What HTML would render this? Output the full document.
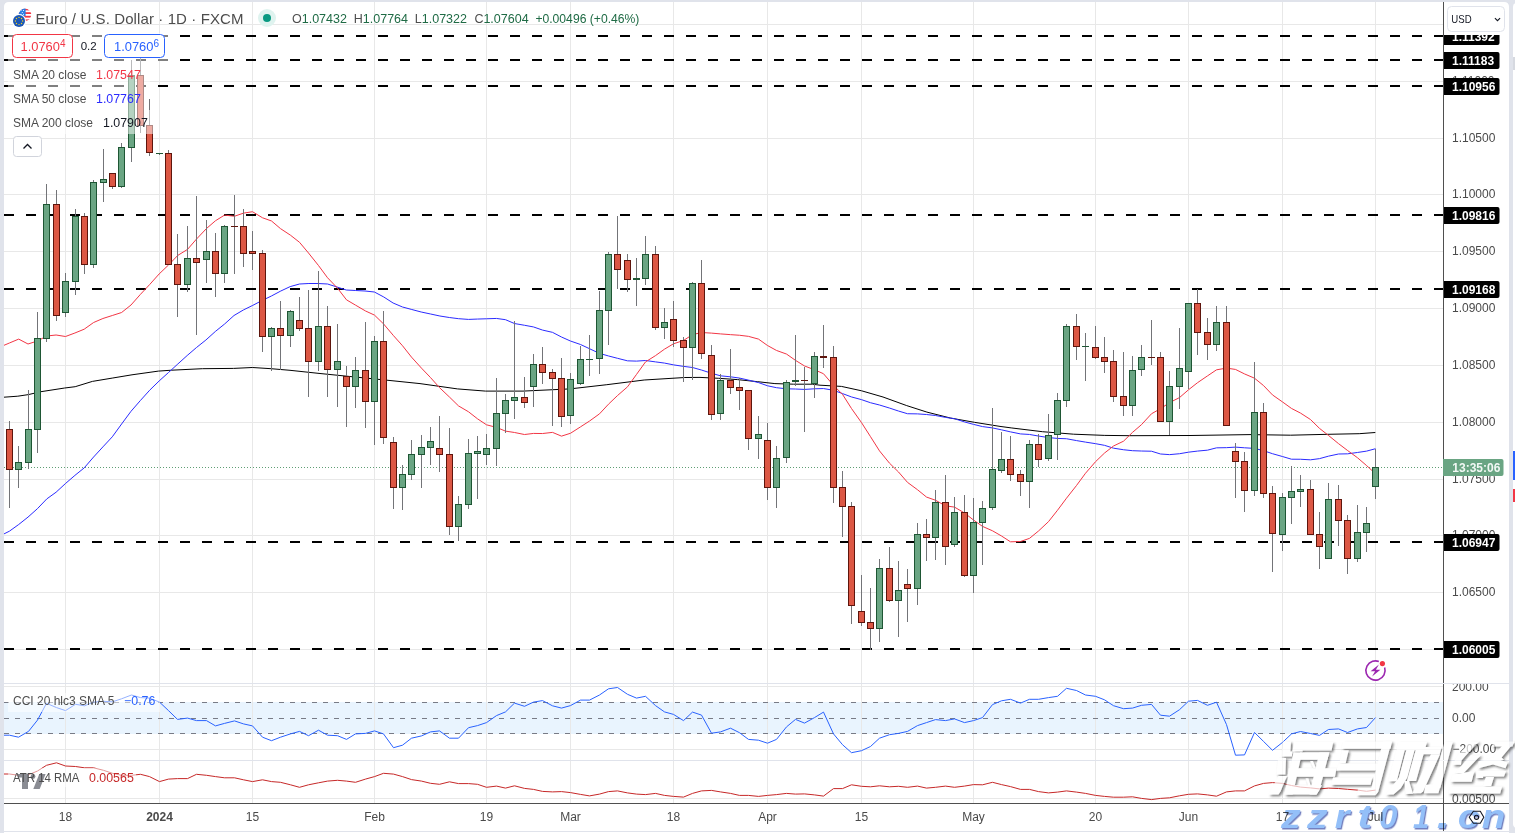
<!DOCTYPE html><html><head><meta charset="utf-8"><title>EUR/USD</title><style>
html,body{margin:0;padding:0;width:1515px;height:833px;overflow:hidden;background:#e0e3eb;}
svg{position:absolute;left:0;top:0;display:block;}
text{font-family:"Liberation Sans", sans-serif;}
</style></head><body>
<svg width="1515" height="833" viewBox="0 0 1515 833">
<defs>
<clipPath id="cmain"><rect x="4" y="2" width="1439" height="681"/></clipPath>
<clipPath id="ccci"><rect x="4" y="684" width="1439" height="76"/></clipPath>
<clipPath id="catr"><rect x="4" y="761" width="1439" height="42"/></clipPath>
<clipPath id="caxis"><rect x="1444" y="35" width="65" height="648"/></clipPath>
</defs>
<path d="M4 831 V7 Q4 2 9 2 H1504 Q1509 2 1509 7 V831 Z" fill="#ffffff"/>
<rect x="4" y="832" width="1505" height="1" fill="#ffffff"/>
<rect x="1513" y="3" width="12" height="825" rx="4" fill="#ffffff"/>
<rect x="1513" y="57" width="2" height="13" fill="#d6d9e0"/>
<rect x="1513" y="451" width="2" height="29" fill="#2962ff"/>
<rect x="1513" y="489" width="2" height="13" fill="#f23645"/>
<g clip-path="url(#cmain)" shape-rendering="crispEdges">
<rect x="4" y="24" width="1439" height="1" fill="#e8e8e8"/>
<rect x="4" y="81" width="1439" height="1" fill="#e8e8e8"/>
<rect x="4" y="138" width="1439" height="1" fill="#e8e8e8"/>
<rect x="4" y="194" width="1439" height="1" fill="#e8e8e8"/>
<rect x="4" y="251" width="1439" height="1" fill="#e8e8e8"/>
<rect x="4" y="308" width="1439" height="1" fill="#e8e8e8"/>
<rect x="4" y="365" width="1439" height="1" fill="#e8e8e8"/>
<rect x="4" y="422" width="1439" height="1" fill="#e8e8e8"/>
<rect x="4" y="479" width="1439" height="1" fill="#e8e8e8"/>
<rect x="4" y="535" width="1439" height="1" fill="#e8e8e8"/>
<rect x="4" y="592" width="1439" height="1" fill="#e8e8e8"/>
<rect x="4" y="649" width="1439" height="1" fill="#e8e8e8"/>
<rect x="65" y="2" width="1" height="681" fill="#e8e8e8"/>
<rect x="159" y="2" width="1" height="681" fill="#e8e8e8"/>
<rect x="252" y="2" width="1" height="681" fill="#e8e8e8"/>
<rect x="374" y="2" width="1" height="681" fill="#e8e8e8"/>
<rect x="486" y="2" width="1" height="681" fill="#e8e8e8"/>
<rect x="570" y="2" width="1" height="681" fill="#e8e8e8"/>
<rect x="673" y="2" width="1" height="681" fill="#e8e8e8"/>
<rect x="767" y="2" width="1" height="681" fill="#e8e8e8"/>
<rect x="861" y="2" width="1" height="681" fill="#e8e8e8"/>
<rect x="973" y="2" width="1" height="681" fill="#e8e8e8"/>
<rect x="1095" y="2" width="1" height="681" fill="#e8e8e8"/>
<rect x="1188" y="2" width="1" height="681" fill="#e8e8e8"/>
<rect x="1282" y="2" width="1" height="681" fill="#e8e8e8"/>
<rect x="1375" y="2" width="1" height="681" fill="#e8e8e8"/>
</g>
<g clip-path="url(#cmain)">
<line x1="4" y1="36" x2="1443" y2="36" stroke="#000" stroke-width="2" stroke-dasharray="10 12" shape-rendering="crispEdges"/>
<line x1="4" y1="60" x2="1443" y2="60" stroke="#000" stroke-width="2" stroke-dasharray="10 12" shape-rendering="crispEdges"/>
<line x1="4" y1="86" x2="1443" y2="86" stroke="#000" stroke-width="2" stroke-dasharray="10 12" shape-rendering="crispEdges"/>
<line x1="4" y1="215" x2="1443" y2="215" stroke="#000" stroke-width="2" stroke-dasharray="10 12" shape-rendering="crispEdges"/>
<line x1="4" y1="289" x2="1443" y2="289" stroke="#000" stroke-width="2" stroke-dasharray="10 12" shape-rendering="crispEdges"/>
<line x1="4" y1="542" x2="1443" y2="542" stroke="#000" stroke-width="2" stroke-dasharray="10 12" shape-rendering="crispEdges"/>
<line x1="4" y1="649" x2="1443" y2="649" stroke="#000" stroke-width="2" stroke-dasharray="10 12" shape-rendering="crispEdges"/>
<line x1="4" y1="467.5" x2="1443" y2="467.5" stroke="#5f9e74" stroke-width="1" stroke-dasharray="1 2" shape-rendering="crispEdges"/>
</g>
<g clip-path="url(#cmain)">
<polyline points="4.00,397.20 17.80,396.20 28.40,394.60 40.90,391.70 64.70,388.00 75.20,386.70 92.40,381.40 112.20,378.10 132.00,374.80 158.40,371.10 171.60,370.20 202.40,368.70 233.60,368.40 252.30,367.50 271.00,368.70 290.00,370.30 320.00,373.50 355.00,377.00 390.00,380.50 420.00,383.60 457.40,388.90 485.50,391.10 523.00,391.10 570.00,388.90 606.80,384.70 644.20,380.00 684.80,377.50 700.00,377.40 718.70,378.30 737.40,379.60 757.70,381.70 774.90,383.60 793.60,384.20 812.30,384.20 820.00,385.20 841.40,386.40 861.60,390.80 883.00,397.00 906.70,405.60 926.90,412.10 950.70,418.10 974.40,422.30 1000.00,426.40 1011.20,427.90 1042.40,431.70 1073.60,434.20 1104.80,435.40 1130.00,435.70 1190.00,435.50 1250.00,434.60 1290.60,435.20 1328.00,434.30 1359.20,433.70 1375.30,432.50" fill="none" stroke="#000000" stroke-width="1" stroke-linejoin="round" />
<polyline points="4.00,533.90 9.40,531.20 18.70,524.50 28.00,517.10 37.40,508.70 46.80,498.90 56.10,492.20 65.50,483.50 74.90,475.40 84.20,467.90 93.60,457.00 102.90,446.90 112.30,436.80 121.60,424.00 131.00,411.30 140.40,400.50 149.70,390.20 159.10,381.00 168.50,372.50 177.80,364.00 187.20,355.50 196.50,347.50 205.90,340.00 215.30,331.50 224.60,324.00 234.00,315.50 243.30,310.00 252.70,305.40 262.10,300.50 271.40,296.00 280.80,291.00 290.20,286.60 299.50,284.00 308.90,283.50 318.20,283.50 327.60,284.00 337.00,287.00 346.30,290.00 355.70,290.50 365.00,291.00 374.40,292.00 383.80,297.00 393.10,303.00 402.50,307.00 411.80,309.50 421.20,312.00 430.60,314.00 439.90,316.00 449.30,317.50 458.60,318.70 468.50,319.41 477.50,319.05 486.50,318.77 496.50,318.45 505.50,319.69 514.50,323.54 524.50,325.28 533.50,326.94 542.50,330.07 552.50,332.35 561.50,337.03 570.50,341.04 580.50,344.49 589.50,348.71 599.50,353.40 608.50,355.96 617.50,358.30 627.50,360.83 636.50,361.11 645.50,360.50 655.50,361.89 664.50,363.09 673.50,364.87 683.50,366.36 692.50,367.50 701.50,370.04 711.50,373.27 720.50,375.80 730.50,376.82 739.50,378.07 748.50,380.12 758.50,382.59 767.50,385.77 776.50,387.69 786.50,388.81 795.50,389.03 804.50,389.42 814.50,388.80 823.50,388.55 833.50,390.27 842.50,393.58 851.50,396.95 861.50,399.65 870.50,402.73 879.50,405.00 889.50,408.06 898.50,411.04 907.50,413.72 917.50,413.88 926.50,414.53 935.50,415.51 945.50,417.40 954.50,418.69 964.50,421.93 973.50,424.37 982.50,426.59 992.50,427.93 1001.50,429.83 1010.50,431.86 1020.50,433.91 1029.50,434.46 1038.50,436.05 1048.50,437.57 1057.50,438.41 1066.50,438.74 1076.50,440.59 1085.50,442.12 1095.50,443.67 1104.50,445.33 1113.50,448.17 1123.50,449.74 1132.50,450.69 1141.50,451.03 1151.50,451.23 1160.50,453.99 1169.50,454.64 1179.50,453.72 1188.50,452.18 1197.50,451.08 1207.50,450.16 1216.50,447.84 1226.50,447.66 1235.50,447.14 1244.50,447.79 1254.50,448.40 1263.50,450.66 1272.50,453.71 1282.50,456.54 1291.50,459.21 1300.50,459.25 1310.50,459.82 1319.50,458.63 1328.50,456.17 1338.50,454.01 1347.50,453.83 1357.50,452.47 1366.50,451.13 1375.50,448.71" fill="none" stroke="#2b2bff" stroke-width="1" stroke-linejoin="round" />
<polyline points="4.00,345.30 9.40,343.00 18.70,339.10 28.00,344.00 37.40,341.00 46.80,336.00 56.10,335.00 65.50,336.50 74.90,333.00 84.20,329.20 93.60,322.50 102.90,318.50 112.30,315.50 121.60,312.50 131.00,305.00 140.40,294.40 149.70,284.50 159.10,274.00 168.50,265.00 177.80,255.40 187.50,249.42 196.50,239.06 206.50,228.51 215.50,220.72 224.50,215.11 234.50,216.24 243.50,213.13 252.50,211.73 262.50,217.77 271.50,220.97 280.50,228.64 290.50,235.23 299.50,242.29 308.50,253.01 318.50,265.54 327.50,277.71 337.50,288.16 346.50,299.83 355.50,305.12 365.50,310.97 374.50,315.12 383.50,323.87 393.50,335.67 402.50,345.72 411.50,357.13 421.50,368.17 430.50,377.56 439.50,387.61 449.50,397.08 458.50,405.90 468.50,411.78 477.50,418.80 486.50,424.81 496.50,427.41 505.50,431.11 514.50,432.49 524.50,434.53 533.50,433.43 542.50,433.54 552.50,432.39 561.50,436.14 570.50,433.25 580.50,426.86 589.50,421.06 599.50,413.83 608.50,404.16 617.50,395.56 627.50,386.83 636.50,374.43 645.50,361.91 655.50,355.61 664.50,349.16 673.50,343.77 683.50,340.49 692.50,334.64 701.50,332.50 711.50,333.11 720.50,333.90 730.50,334.65 739.50,335.26 748.50,336.36 758.50,339.10 767.50,345.50 776.50,350.46 786.50,354.06 795.50,360.37 804.50,365.96 814.50,369.75 823.50,373.74 833.50,385.39 842.50,394.35 851.50,408.53 861.50,422.62 870.50,436.66 879.50,450.88 889.50,463.20 898.50,471.99 907.50,482.39 917.50,489.73 926.50,497.06 935.50,500.25 945.50,505.84 954.50,507.10 964.50,512.99 973.50,520.02 982.50,526.39 992.50,530.81 1001.50,535.99 1010.50,541.81 1020.50,541.50 1029.50,538.35 1038.50,531.01 1048.50,521.64 1057.50,510.25 1066.50,498.19 1076.50,485.49 1085.50,473.26 1095.50,461.71 1104.50,453.06 1113.50,446.00 1123.50,441.19 1132.50,432.38 1141.50,424.63 1151.50,413.75 1160.50,408.69 1169.50,402.63 1179.50,397.58 1188.50,389.79 1197.50,382.71 1207.50,375.88 1216.50,369.82 1226.50,368.12 1235.50,369.43 1244.50,373.92 1254.50,378.19 1263.50,385.54 1272.50,394.93 1282.50,401.94 1291.50,408.44 1300.50,413.09 1310.50,419.54 1319.50,428.38 1328.50,435.46 1338.50,443.61 1347.50,450.46 1357.50,457.76 1366.50,465.51 1375.50,473.71" fill="none" stroke="#f23645" stroke-width="1" stroke-linejoin="round" />
</g>
<g clip-path="url(#cmain)" shape-rendering="crispEdges">
<rect x="9" y="421" width="1" height="87" fill="#737478"/>
<rect x="6" y="429" width="7" height="41" fill="#5e150d"/>
<rect x="7" y="430" width="5" height="39" fill="#dc5744"/>
<rect x="18" y="446" width="1" height="42" fill="#737478"/>
<rect x="15" y="462" width="7" height="8" fill="#1e5634"/>
<rect x="16" y="463" width="5" height="6" fill="#6aa583"/>
<rect x="28" y="390" width="1" height="79" fill="#737478"/>
<rect x="25" y="429" width="7" height="34" fill="#1e5634"/>
<rect x="26" y="430" width="5" height="32" fill="#6aa583"/>
<rect x="37" y="312" width="1" height="141" fill="#737478"/>
<rect x="34" y="338" width="7" height="92" fill="#1e5634"/>
<rect x="35" y="339" width="5" height="90" fill="#6aa583"/>
<rect x="46" y="184" width="1" height="158" fill="#737478"/>
<rect x="43" y="204" width="7" height="135" fill="#1e5634"/>
<rect x="44" y="205" width="5" height="133" fill="#6aa583"/>
<rect x="56" y="190" width="1" height="131" fill="#737478"/>
<rect x="53" y="204" width="7" height="112" fill="#5e150d"/>
<rect x="54" y="205" width="5" height="110" fill="#dc5744"/>
<rect x="65" y="273" width="1" height="44" fill="#737478"/>
<rect x="62" y="281" width="7" height="32" fill="#1e5634"/>
<rect x="63" y="282" width="5" height="30" fill="#6aa583"/>
<rect x="75" y="209" width="1" height="86" fill="#737478"/>
<rect x="72" y="216" width="7" height="66" fill="#1e5634"/>
<rect x="73" y="217" width="5" height="64" fill="#6aa583"/>
<rect x="84" y="213" width="1" height="61" fill="#737478"/>
<rect x="81" y="216" width="7" height="49" fill="#5e150d"/>
<rect x="82" y="217" width="5" height="47" fill="#dc5744"/>
<rect x="93" y="180" width="1" height="88" fill="#737478"/>
<rect x="90" y="182" width="7" height="83" fill="#1e5634"/>
<rect x="91" y="183" width="5" height="81" fill="#6aa583"/>
<rect x="103" y="149" width="1" height="53" fill="#737478"/>
<rect x="100" y="179" width="7" height="4" fill="#1e5634"/>
<rect x="101" y="180" width="5" height="2" fill="#6aa583"/>
<rect x="112" y="173" width="1" height="16" fill="#737478"/>
<rect x="109" y="173" width="7" height="14" fill="#5e150d"/>
<rect x="110" y="174" width="5" height="12" fill="#dc5744"/>
<rect x="121" y="143" width="1" height="45" fill="#737478"/>
<rect x="118" y="147" width="7" height="40" fill="#1e5634"/>
<rect x="119" y="148" width="5" height="38" fill="#6aa583"/>
<rect x="131" y="60" width="1" height="102" fill="#737478"/>
<rect x="128" y="75" width="7" height="73" fill="#1e5634"/>
<rect x="129" y="76" width="5" height="71" fill="#6aa583"/>
<rect x="140" y="38" width="1" height="95" fill="#737478"/>
<rect x="137" y="75" width="7" height="51" fill="#5e150d"/>
<rect x="138" y="76" width="5" height="49" fill="#dc5744"/>
<rect x="149" y="99" width="1" height="57" fill="#737478"/>
<rect x="146" y="125" width="7" height="28" fill="#5e150d"/>
<rect x="147" y="126" width="5" height="26" fill="#dc5744"/>
<rect x="159" y="153" width="1" height="2" fill="#737478"/>
<rect x="156" y="153" width="7" height="1" fill="#1e5634"/>
<rect x="168" y="150" width="1" height="115" fill="#737478"/>
<rect x="165" y="153" width="7" height="112" fill="#5e150d"/>
<rect x="166" y="154" width="5" height="110" fill="#dc5744"/>
<rect x="177" y="234" width="1" height="83" fill="#737478"/>
<rect x="174" y="264" width="7" height="21" fill="#5e150d"/>
<rect x="175" y="265" width="5" height="19" fill="#dc5744"/>
<rect x="187" y="226" width="1" height="66" fill="#737478"/>
<rect x="184" y="258" width="7" height="27" fill="#1e5634"/>
<rect x="185" y="259" width="5" height="25" fill="#6aa583"/>
<rect x="196" y="196" width="1" height="139" fill="#737478"/>
<rect x="193" y="258" width="7" height="5" fill="#5e150d"/>
<rect x="194" y="259" width="5" height="3" fill="#dc5744"/>
<rect x="206" y="220" width="1" height="63" fill="#737478"/>
<rect x="203" y="251" width="7" height="9" fill="#1e5634"/>
<rect x="204" y="252" width="5" height="7" fill="#6aa583"/>
<rect x="215" y="233" width="1" height="64" fill="#737478"/>
<rect x="212" y="251" width="7" height="23" fill="#5e150d"/>
<rect x="213" y="252" width="5" height="21" fill="#dc5744"/>
<rect x="224" y="225" width="1" height="58" fill="#737478"/>
<rect x="221" y="226" width="7" height="48" fill="#1e5634"/>
<rect x="222" y="227" width="5" height="46" fill="#6aa583"/>
<rect x="234" y="195" width="1" height="79" fill="#737478"/>
<rect x="231" y="226" width="7" height="1" fill="#5e150d"/>
<rect x="243" y="209" width="1" height="58" fill="#737478"/>
<rect x="240" y="226" width="7" height="28" fill="#5e150d"/>
<rect x="241" y="227" width="5" height="26" fill="#dc5744"/>
<rect x="252" y="231" width="1" height="39" fill="#737478"/>
<rect x="249" y="251" width="7" height="3" fill="#5e150d"/>
<rect x="250" y="252" width="5" height="1" fill="#dc5744"/>
<rect x="262" y="250" width="1" height="102" fill="#737478"/>
<rect x="259" y="253" width="7" height="84" fill="#5e150d"/>
<rect x="260" y="254" width="5" height="82" fill="#dc5744"/>
<rect x="271" y="327" width="1" height="44" fill="#737478"/>
<rect x="268" y="328" width="7" height="9" fill="#1e5634"/>
<rect x="269" y="329" width="5" height="7" fill="#6aa583"/>
<rect x="280" y="301" width="1" height="69" fill="#737478"/>
<rect x="277" y="328" width="7" height="8" fill="#5e150d"/>
<rect x="278" y="329" width="5" height="6" fill="#dc5744"/>
<rect x="290" y="310" width="1" height="37" fill="#737478"/>
<rect x="287" y="311" width="7" height="25" fill="#1e5634"/>
<rect x="288" y="312" width="5" height="23" fill="#6aa583"/>
<rect x="299" y="297" width="1" height="34" fill="#737478"/>
<rect x="296" y="320" width="7" height="9" fill="#5e150d"/>
<rect x="297" y="321" width="5" height="7" fill="#dc5744"/>
<rect x="308" y="290" width="1" height="107" fill="#737478"/>
<rect x="305" y="328" width="7" height="34" fill="#5e150d"/>
<rect x="306" y="329" width="5" height="32" fill="#dc5744"/>
<rect x="318" y="271" width="1" height="100" fill="#737478"/>
<rect x="315" y="326" width="7" height="36" fill="#1e5634"/>
<rect x="316" y="327" width="5" height="34" fill="#6aa583"/>
<rect x="327" y="306" width="1" height="91" fill="#737478"/>
<rect x="324" y="326" width="7" height="44" fill="#5e150d"/>
<rect x="325" y="327" width="5" height="42" fill="#dc5744"/>
<rect x="337" y="324" width="1" height="83" fill="#737478"/>
<rect x="334" y="361" width="7" height="9" fill="#1e5634"/>
<rect x="335" y="362" width="5" height="7" fill="#6aa583"/>
<rect x="346" y="366" width="1" height="61" fill="#737478"/>
<rect x="343" y="376" width="7" height="11" fill="#5e150d"/>
<rect x="344" y="377" width="5" height="9" fill="#dc5744"/>
<rect x="355" y="357" width="1" height="51" fill="#737478"/>
<rect x="352" y="370" width="7" height="17" fill="#1e5634"/>
<rect x="353" y="371" width="5" height="15" fill="#6aa583"/>
<rect x="365" y="322" width="1" height="106" fill="#737478"/>
<rect x="362" y="370" width="7" height="32" fill="#5e150d"/>
<rect x="363" y="371" width="5" height="30" fill="#dc5744"/>
<rect x="374" y="336" width="1" height="109" fill="#737478"/>
<rect x="371" y="341" width="7" height="61" fill="#1e5634"/>
<rect x="372" y="342" width="5" height="59" fill="#6aa583"/>
<rect x="383" y="311" width="1" height="133" fill="#737478"/>
<rect x="380" y="341" width="7" height="97" fill="#5e150d"/>
<rect x="381" y="342" width="5" height="95" fill="#dc5744"/>
<rect x="393" y="437" width="1" height="72" fill="#737478"/>
<rect x="390" y="442" width="7" height="46" fill="#5e150d"/>
<rect x="391" y="443" width="5" height="44" fill="#dc5744"/>
<rect x="402" y="465" width="1" height="45" fill="#737478"/>
<rect x="399" y="474" width="7" height="14" fill="#1e5634"/>
<rect x="400" y="475" width="5" height="12" fill="#6aa583"/>
<rect x="411" y="440" width="1" height="40" fill="#737478"/>
<rect x="408" y="454" width="7" height="21" fill="#1e5634"/>
<rect x="409" y="455" width="5" height="19" fill="#6aa583"/>
<rect x="421" y="435" width="1" height="53" fill="#737478"/>
<rect x="418" y="447" width="7" height="8" fill="#1e5634"/>
<rect x="419" y="448" width="5" height="6" fill="#6aa583"/>
<rect x="430" y="427" width="1" height="38" fill="#737478"/>
<rect x="427" y="441" width="7" height="7" fill="#1e5634"/>
<rect x="428" y="442" width="5" height="5" fill="#6aa583"/>
<rect x="439" y="416" width="1" height="56" fill="#737478"/>
<rect x="436" y="448" width="7" height="7" fill="#5e150d"/>
<rect x="437" y="449" width="5" height="5" fill="#dc5744"/>
<rect x="449" y="428" width="1" height="107" fill="#737478"/>
<rect x="446" y="454" width="7" height="73" fill="#5e150d"/>
<rect x="447" y="455" width="5" height="71" fill="#dc5744"/>
<rect x="458" y="496" width="1" height="45" fill="#737478"/>
<rect x="455" y="504" width="7" height="23" fill="#1e5634"/>
<rect x="456" y="505" width="5" height="21" fill="#6aa583"/>
<rect x="468" y="439" width="1" height="70" fill="#737478"/>
<rect x="465" y="453" width="7" height="52" fill="#1e5634"/>
<rect x="466" y="454" width="5" height="50" fill="#6aa583"/>
<rect x="477" y="436" width="1" height="63" fill="#737478"/>
<rect x="474" y="451" width="7" height="3" fill="#1e5634"/>
<rect x="475" y="452" width="5" height="1" fill="#6aa583"/>
<rect x="486" y="434" width="1" height="31" fill="#737478"/>
<rect x="483" y="448" width="7" height="7" fill="#1e5634"/>
<rect x="484" y="449" width="5" height="5" fill="#6aa583"/>
<rect x="496" y="378" width="1" height="88" fill="#737478"/>
<rect x="493" y="413" width="7" height="36" fill="#1e5634"/>
<rect x="494" y="414" width="5" height="34" fill="#6aa583"/>
<rect x="505" y="394" width="1" height="39" fill="#737478"/>
<rect x="502" y="400" width="7" height="14" fill="#1e5634"/>
<rect x="503" y="401" width="5" height="12" fill="#6aa583"/>
<rect x="514" y="321" width="1" height="98" fill="#737478"/>
<rect x="511" y="397" width="7" height="4" fill="#1e5634"/>
<rect x="512" y="398" width="5" height="2" fill="#6aa583"/>
<rect x="524" y="377" width="1" height="31" fill="#737478"/>
<rect x="521" y="397" width="7" height="6" fill="#5e150d"/>
<rect x="522" y="398" width="5" height="4" fill="#dc5744"/>
<rect x="533" y="354" width="1" height="53" fill="#737478"/>
<rect x="530" y="364" width="7" height="23" fill="#1e5634"/>
<rect x="531" y="365" width="5" height="21" fill="#6aa583"/>
<rect x="542" y="347" width="1" height="37" fill="#737478"/>
<rect x="539" y="364" width="7" height="9" fill="#5e150d"/>
<rect x="540" y="365" width="5" height="7" fill="#dc5744"/>
<rect x="552" y="369" width="1" height="57" fill="#737478"/>
<rect x="549" y="372" width="7" height="7" fill="#5e150d"/>
<rect x="550" y="373" width="5" height="5" fill="#dc5744"/>
<rect x="561" y="358" width="1" height="69" fill="#737478"/>
<rect x="558" y="378" width="7" height="39" fill="#5e150d"/>
<rect x="559" y="379" width="5" height="37" fill="#dc5744"/>
<rect x="570" y="373" width="1" height="51" fill="#737478"/>
<rect x="567" y="379" width="7" height="37" fill="#1e5634"/>
<rect x="568" y="380" width="5" height="35" fill="#6aa583"/>
<rect x="580" y="346" width="1" height="39" fill="#737478"/>
<rect x="577" y="359" width="7" height="25" fill="#1e5634"/>
<rect x="578" y="360" width="5" height="23" fill="#6aa583"/>
<rect x="589" y="335" width="1" height="41" fill="#737478"/>
<rect x="586" y="359" width="7" height="1" fill="#1e5634"/>
<rect x="599" y="291" width="1" height="83" fill="#737478"/>
<rect x="596" y="310" width="7" height="49" fill="#1e5634"/>
<rect x="597" y="311" width="5" height="47" fill="#6aa583"/>
<rect x="608" y="252" width="1" height="93" fill="#737478"/>
<rect x="605" y="254" width="7" height="57" fill="#1e5634"/>
<rect x="606" y="255" width="5" height="55" fill="#6aa583"/>
<rect x="617" y="216" width="1" height="73" fill="#737478"/>
<rect x="614" y="254" width="7" height="16" fill="#5e150d"/>
<rect x="615" y="255" width="5" height="14" fill="#dc5744"/>
<rect x="627" y="254" width="1" height="38" fill="#737478"/>
<rect x="624" y="260" width="7" height="20" fill="#5e150d"/>
<rect x="625" y="261" width="5" height="18" fill="#dc5744"/>
<rect x="636" y="258" width="1" height="48" fill="#737478"/>
<rect x="633" y="278" width="7" height="2" fill="#1e5634"/>
<rect x="645" y="236" width="1" height="49" fill="#737478"/>
<rect x="642" y="254" width="7" height="25" fill="#1e5634"/>
<rect x="643" y="255" width="5" height="23" fill="#6aa583"/>
<rect x="655" y="246" width="1" height="84" fill="#737478"/>
<rect x="652" y="254" width="7" height="74" fill="#5e150d"/>
<rect x="653" y="255" width="5" height="72" fill="#dc5744"/>
<rect x="664" y="308" width="1" height="31" fill="#737478"/>
<rect x="661" y="322" width="7" height="6" fill="#1e5634"/>
<rect x="662" y="323" width="5" height="4" fill="#6aa583"/>
<rect x="673" y="301" width="1" height="46" fill="#737478"/>
<rect x="670" y="319" width="7" height="22" fill="#5e150d"/>
<rect x="671" y="320" width="5" height="20" fill="#dc5744"/>
<rect x="683" y="337" width="1" height="45" fill="#737478"/>
<rect x="680" y="340" width="7" height="8" fill="#5e150d"/>
<rect x="681" y="341" width="5" height="6" fill="#dc5744"/>
<rect x="692" y="282" width="1" height="98" fill="#737478"/>
<rect x="689" y="283" width="7" height="65" fill="#1e5634"/>
<rect x="690" y="284" width="5" height="63" fill="#6aa583"/>
<rect x="701" y="260" width="1" height="99" fill="#737478"/>
<rect x="698" y="283" width="7" height="71" fill="#5e150d"/>
<rect x="699" y="284" width="5" height="69" fill="#dc5744"/>
<rect x="711" y="345" width="1" height="75" fill="#737478"/>
<rect x="708" y="355" width="7" height="60" fill="#5e150d"/>
<rect x="709" y="356" width="5" height="58" fill="#dc5744"/>
<rect x="720" y="374" width="1" height="46" fill="#737478"/>
<rect x="717" y="380" width="7" height="34" fill="#1e5634"/>
<rect x="718" y="381" width="5" height="32" fill="#6aa583"/>
<rect x="730" y="349" width="1" height="45" fill="#737478"/>
<rect x="727" y="380" width="7" height="8" fill="#5e150d"/>
<rect x="728" y="381" width="5" height="6" fill="#dc5744"/>
<rect x="739" y="378" width="1" height="32" fill="#737478"/>
<rect x="736" y="387" width="7" height="4" fill="#5e150d"/>
<rect x="737" y="388" width="5" height="2" fill="#dc5744"/>
<rect x="748" y="390" width="1" height="60" fill="#737478"/>
<rect x="745" y="390" width="7" height="49" fill="#5e150d"/>
<rect x="746" y="391" width="5" height="47" fill="#dc5744"/>
<rect x="758" y="416" width="1" height="43" fill="#737478"/>
<rect x="755" y="434" width="7" height="5" fill="#1e5634"/>
<rect x="756" y="435" width="5" height="3" fill="#6aa583"/>
<rect x="767" y="423" width="1" height="77" fill="#737478"/>
<rect x="764" y="440" width="7" height="48" fill="#5e150d"/>
<rect x="765" y="441" width="5" height="46" fill="#dc5744"/>
<rect x="776" y="446" width="1" height="62" fill="#737478"/>
<rect x="773" y="458" width="7" height="30" fill="#1e5634"/>
<rect x="774" y="459" width="5" height="28" fill="#6aa583"/>
<rect x="786" y="380" width="1" height="83" fill="#737478"/>
<rect x="783" y="382" width="7" height="76" fill="#1e5634"/>
<rect x="784" y="383" width="5" height="74" fill="#6aa583"/>
<rect x="795" y="335" width="1" height="51" fill="#737478"/>
<rect x="792" y="380" width="7" height="2" fill="#1e5634"/>
<rect x="804" y="367" width="1" height="65" fill="#737478"/>
<rect x="801" y="380" width="7" height="1" fill="#5e150d"/>
<rect x="814" y="352" width="1" height="46" fill="#737478"/>
<rect x="811" y="356" width="7" height="28" fill="#1e5634"/>
<rect x="812" y="357" width="5" height="26" fill="#6aa583"/>
<rect x="823" y="325" width="1" height="43" fill="#737478"/>
<rect x="820" y="356" width="7" height="2" fill="#5e150d"/>
<rect x="833" y="346" width="1" height="157" fill="#737478"/>
<rect x="830" y="357" width="7" height="131" fill="#5e150d"/>
<rect x="831" y="358" width="5" height="129" fill="#dc5744"/>
<rect x="842" y="471" width="1" height="66" fill="#737478"/>
<rect x="839" y="487" width="7" height="20" fill="#5e150d"/>
<rect x="840" y="488" width="5" height="18" fill="#dc5744"/>
<rect x="851" y="502" width="1" height="122" fill="#737478"/>
<rect x="848" y="506" width="7" height="100" fill="#5e150d"/>
<rect x="849" y="507" width="5" height="98" fill="#dc5744"/>
<rect x="861" y="575" width="1" height="51" fill="#737478"/>
<rect x="858" y="611" width="7" height="12" fill="#5e150d"/>
<rect x="859" y="612" width="5" height="10" fill="#dc5744"/>
<rect x="870" y="588" width="1" height="62" fill="#737478"/>
<rect x="867" y="622" width="7" height="7" fill="#5e150d"/>
<rect x="868" y="623" width="5" height="5" fill="#dc5744"/>
<rect x="879" y="559" width="1" height="83" fill="#737478"/>
<rect x="876" y="568" width="7" height="61" fill="#1e5634"/>
<rect x="877" y="569" width="5" height="59" fill="#6aa583"/>
<rect x="889" y="547" width="1" height="55" fill="#737478"/>
<rect x="886" y="568" width="7" height="33" fill="#5e150d"/>
<rect x="887" y="569" width="5" height="31" fill="#dc5744"/>
<rect x="898" y="561" width="1" height="76" fill="#737478"/>
<rect x="895" y="590" width="7" height="11" fill="#1e5634"/>
<rect x="896" y="591" width="5" height="9" fill="#6aa583"/>
<rect x="907" y="569" width="1" height="53" fill="#737478"/>
<rect x="904" y="584" width="7" height="5" fill="#5e150d"/>
<rect x="905" y="585" width="5" height="3" fill="#dc5744"/>
<rect x="917" y="523" width="1" height="82" fill="#737478"/>
<rect x="914" y="534" width="7" height="55" fill="#1e5634"/>
<rect x="915" y="535" width="5" height="53" fill="#6aa583"/>
<rect x="926" y="519" width="1" height="42" fill="#737478"/>
<rect x="923" y="534" width="7" height="4" fill="#5e150d"/>
<rect x="924" y="535" width="5" height="2" fill="#dc5744"/>
<rect x="935" y="490" width="1" height="70" fill="#737478"/>
<rect x="932" y="502" width="7" height="36" fill="#1e5634"/>
<rect x="933" y="503" width="5" height="34" fill="#6aa583"/>
<rect x="945" y="475" width="1" height="90" fill="#737478"/>
<rect x="942" y="502" width="7" height="45" fill="#5e150d"/>
<rect x="943" y="503" width="5" height="43" fill="#dc5744"/>
<rect x="954" y="497" width="1" height="50" fill="#737478"/>
<rect x="951" y="512" width="7" height="33" fill="#1e5634"/>
<rect x="952" y="513" width="5" height="31" fill="#6aa583"/>
<rect x="964" y="495" width="1" height="82" fill="#737478"/>
<rect x="961" y="512" width="7" height="64" fill="#5e150d"/>
<rect x="962" y="513" width="5" height="62" fill="#dc5744"/>
<rect x="973" y="498" width="1" height="95" fill="#737478"/>
<rect x="970" y="522" width="7" height="54" fill="#1e5634"/>
<rect x="971" y="523" width="5" height="52" fill="#6aa583"/>
<rect x="982" y="501" width="1" height="64" fill="#737478"/>
<rect x="979" y="508" width="7" height="15" fill="#1e5634"/>
<rect x="980" y="509" width="5" height="13" fill="#6aa583"/>
<rect x="992" y="408" width="1" height="102" fill="#737478"/>
<rect x="989" y="469" width="7" height="39" fill="#1e5634"/>
<rect x="990" y="470" width="5" height="37" fill="#6aa583"/>
<rect x="1001" y="432" width="1" height="41" fill="#737478"/>
<rect x="998" y="459" width="7" height="12" fill="#1e5634"/>
<rect x="999" y="460" width="5" height="10" fill="#6aa583"/>
<rect x="1010" y="436" width="1" height="45" fill="#737478"/>
<rect x="1007" y="459" width="7" height="16" fill="#5e150d"/>
<rect x="1008" y="460" width="5" height="14" fill="#dc5744"/>
<rect x="1020" y="470" width="1" height="26" fill="#737478"/>
<rect x="1017" y="474" width="7" height="8" fill="#5e150d"/>
<rect x="1018" y="475" width="5" height="6" fill="#dc5744"/>
<rect x="1029" y="440" width="1" height="68" fill="#737478"/>
<rect x="1026" y="444" width="7" height="38" fill="#1e5634"/>
<rect x="1027" y="445" width="5" height="36" fill="#6aa583"/>
<rect x="1038" y="434" width="1" height="33" fill="#737478"/>
<rect x="1035" y="444" width="7" height="16" fill="#5e150d"/>
<rect x="1036" y="445" width="5" height="14" fill="#dc5744"/>
<rect x="1048" y="414" width="1" height="47" fill="#737478"/>
<rect x="1045" y="435" width="7" height="24" fill="#1e5634"/>
<rect x="1046" y="436" width="5" height="22" fill="#6aa583"/>
<rect x="1057" y="393" width="1" height="67" fill="#737478"/>
<rect x="1054" y="400" width="7" height="35" fill="#1e5634"/>
<rect x="1055" y="401" width="5" height="33" fill="#6aa583"/>
<rect x="1066" y="324" width="1" height="83" fill="#737478"/>
<rect x="1063" y="326" width="7" height="75" fill="#1e5634"/>
<rect x="1064" y="327" width="5" height="73" fill="#6aa583"/>
<rect x="1076" y="314" width="1" height="46" fill="#737478"/>
<rect x="1073" y="326" width="7" height="21" fill="#5e150d"/>
<rect x="1074" y="327" width="5" height="19" fill="#dc5744"/>
<rect x="1085" y="333" width="1" height="48" fill="#737478"/>
<rect x="1082" y="346" width="7" height="1" fill="#1e5634"/>
<rect x="1095" y="326" width="1" height="33" fill="#737478"/>
<rect x="1092" y="347" width="7" height="11" fill="#5e150d"/>
<rect x="1093" y="348" width="5" height="9" fill="#dc5744"/>
<rect x="1104" y="337" width="1" height="36" fill="#737478"/>
<rect x="1101" y="357" width="7" height="5" fill="#5e150d"/>
<rect x="1102" y="358" width="5" height="3" fill="#dc5744"/>
<rect x="1113" y="350" width="1" height="52" fill="#737478"/>
<rect x="1110" y="361" width="7" height="36" fill="#5e150d"/>
<rect x="1111" y="362" width="5" height="34" fill="#dc5744"/>
<rect x="1123" y="352" width="1" height="64" fill="#737478"/>
<rect x="1120" y="396" width="7" height="10" fill="#5e150d"/>
<rect x="1121" y="397" width="5" height="8" fill="#dc5744"/>
<rect x="1132" y="356" width="1" height="60" fill="#737478"/>
<rect x="1129" y="370" width="7" height="36" fill="#1e5634"/>
<rect x="1130" y="371" width="5" height="34" fill="#6aa583"/>
<rect x="1141" y="345" width="1" height="31" fill="#737478"/>
<rect x="1138" y="357" width="7" height="13" fill="#1e5634"/>
<rect x="1139" y="358" width="5" height="11" fill="#6aa583"/>
<rect x="1151" y="320" width="1" height="45" fill="#737478"/>
<rect x="1148" y="357" width="7" height="1" fill="#5e150d"/>
<rect x="1160" y="352" width="1" height="70" fill="#737478"/>
<rect x="1157" y="357" width="7" height="65" fill="#5e150d"/>
<rect x="1158" y="358" width="5" height="63" fill="#dc5744"/>
<rect x="1169" y="371" width="1" height="64" fill="#737478"/>
<rect x="1166" y="386" width="7" height="36" fill="#1e5634"/>
<rect x="1167" y="387" width="5" height="34" fill="#6aa583"/>
<rect x="1179" y="328" width="1" height="81" fill="#737478"/>
<rect x="1176" y="368" width="7" height="19" fill="#1e5634"/>
<rect x="1177" y="369" width="5" height="17" fill="#6aa583"/>
<rect x="1188" y="303" width="1" height="86" fill="#737478"/>
<rect x="1185" y="303" width="7" height="69" fill="#1e5634"/>
<rect x="1186" y="304" width="5" height="67" fill="#6aa583"/>
<rect x="1197" y="289" width="1" height="66" fill="#737478"/>
<rect x="1194" y="303" width="7" height="30" fill="#5e150d"/>
<rect x="1195" y="304" width="5" height="28" fill="#dc5744"/>
<rect x="1207" y="318" width="1" height="42" fill="#737478"/>
<rect x="1204" y="332" width="7" height="13" fill="#5e150d"/>
<rect x="1205" y="333" width="5" height="11" fill="#dc5744"/>
<rect x="1216" y="306" width="1" height="45" fill="#737478"/>
<rect x="1213" y="322" width="7" height="23" fill="#1e5634"/>
<rect x="1214" y="323" width="5" height="21" fill="#6aa583"/>
<rect x="1226" y="306" width="1" height="120" fill="#737478"/>
<rect x="1223" y="322" width="7" height="104" fill="#5e150d"/>
<rect x="1224" y="323" width="5" height="102" fill="#dc5744"/>
<rect x="1235" y="443" width="1" height="55" fill="#737478"/>
<rect x="1232" y="451" width="7" height="11" fill="#5e150d"/>
<rect x="1233" y="452" width="5" height="9" fill="#dc5744"/>
<rect x="1244" y="452" width="1" height="60" fill="#737478"/>
<rect x="1241" y="461" width="7" height="30" fill="#5e150d"/>
<rect x="1242" y="462" width="5" height="28" fill="#dc5744"/>
<rect x="1254" y="362" width="1" height="134" fill="#737478"/>
<rect x="1251" y="412" width="7" height="79" fill="#1e5634"/>
<rect x="1252" y="413" width="5" height="77" fill="#6aa583"/>
<rect x="1263" y="403" width="1" height="95" fill="#737478"/>
<rect x="1260" y="412" width="7" height="82" fill="#5e150d"/>
<rect x="1261" y="413" width="5" height="80" fill="#dc5744"/>
<rect x="1272" y="486" width="1" height="86" fill="#737478"/>
<rect x="1269" y="493" width="7" height="41" fill="#5e150d"/>
<rect x="1270" y="494" width="5" height="39" fill="#dc5744"/>
<rect x="1282" y="493" width="1" height="58" fill="#737478"/>
<rect x="1279" y="497" width="7" height="38" fill="#1e5634"/>
<rect x="1280" y="498" width="5" height="36" fill="#6aa583"/>
<rect x="1291" y="466" width="1" height="58" fill="#737478"/>
<rect x="1288" y="491" width="7" height="7" fill="#1e5634"/>
<rect x="1289" y="492" width="5" height="5" fill="#6aa583"/>
<rect x="1300" y="475" width="1" height="32" fill="#737478"/>
<rect x="1297" y="489" width="7" height="3" fill="#1e5634"/>
<rect x="1298" y="490" width="5" height="1" fill="#6aa583"/>
<rect x="1310" y="480" width="1" height="55" fill="#737478"/>
<rect x="1307" y="489" width="7" height="46" fill="#5e150d"/>
<rect x="1308" y="490" width="5" height="44" fill="#dc5744"/>
<rect x="1319" y="512" width="1" height="57" fill="#737478"/>
<rect x="1316" y="534" width="7" height="13" fill="#5e150d"/>
<rect x="1317" y="535" width="5" height="11" fill="#dc5744"/>
<rect x="1328" y="483" width="1" height="76" fill="#737478"/>
<rect x="1325" y="499" width="7" height="60" fill="#1e5634"/>
<rect x="1326" y="500" width="5" height="58" fill="#6aa583"/>
<rect x="1338" y="485" width="1" height="61" fill="#737478"/>
<rect x="1335" y="499" width="7" height="22" fill="#5e150d"/>
<rect x="1336" y="500" width="5" height="20" fill="#dc5744"/>
<rect x="1347" y="515" width="1" height="59" fill="#737478"/>
<rect x="1344" y="520" width="7" height="39" fill="#5e150d"/>
<rect x="1345" y="521" width="5" height="37" fill="#dc5744"/>
<rect x="1357" y="505" width="1" height="57" fill="#737478"/>
<rect x="1354" y="532" width="7" height="27" fill="#1e5634"/>
<rect x="1355" y="533" width="5" height="25" fill="#6aa583"/>
<rect x="1366" y="507" width="1" height="45" fill="#737478"/>
<rect x="1363" y="523" width="7" height="10" fill="#1e5634"/>
<rect x="1364" y="524" width="5" height="8" fill="#6aa583"/>
<rect x="1375" y="449" width="1" height="50" fill="#737478"/>
<rect x="1372" y="467" width="7" height="20" fill="#1e5634"/>
<rect x="1373" y="468" width="5" height="18" fill="#6aa583"/>
</g>
<g clip-path="url(#ccci)">
<rect x="4" y="702" width="1439" height="32" fill="#e9f4fe"/>
<rect x="4" y="686" width="1439" height="1" fill="#e8e8e8" shape-rendering="crispEdges"/>
<rect x="4" y="749" width="1439" height="1" fill="#e8e8e8" shape-rendering="crispEdges"/>
<rect x="65" y="684" width="1" height="76" fill="#e8e8e8" shape-rendering="crispEdges"/>
<rect x="159" y="684" width="1" height="76" fill="#e8e8e8" shape-rendering="crispEdges"/>
<rect x="252" y="684" width="1" height="76" fill="#e8e8e8" shape-rendering="crispEdges"/>
<rect x="374" y="684" width="1" height="76" fill="#e8e8e8" shape-rendering="crispEdges"/>
<rect x="486" y="684" width="1" height="76" fill="#e8e8e8" shape-rendering="crispEdges"/>
<rect x="570" y="684" width="1" height="76" fill="#e8e8e8" shape-rendering="crispEdges"/>
<rect x="673" y="684" width="1" height="76" fill="#e8e8e8" shape-rendering="crispEdges"/>
<rect x="767" y="684" width="1" height="76" fill="#e8e8e8" shape-rendering="crispEdges"/>
<rect x="861" y="684" width="1" height="76" fill="#e8e8e8" shape-rendering="crispEdges"/>
<rect x="973" y="684" width="1" height="76" fill="#e8e8e8" shape-rendering="crispEdges"/>
<rect x="1095" y="684" width="1" height="76" fill="#e8e8e8" shape-rendering="crispEdges"/>
<rect x="1188" y="684" width="1" height="76" fill="#e8e8e8" shape-rendering="crispEdges"/>
<rect x="1282" y="684" width="1" height="76" fill="#e8e8e8" shape-rendering="crispEdges"/>
<rect x="1375" y="684" width="1" height="76" fill="#e8e8e8" shape-rendering="crispEdges"/>
<line x1="4" y1="702.5" x2="1443" y2="702.5" stroke="#787b86" stroke-width="1" stroke-dasharray="5 6" shape-rendering="crispEdges"/>
<line x1="4" y1="718.5" x2="1443" y2="718.5" stroke="#787b86" stroke-width="1" stroke-dasharray="5 6" shape-rendering="crispEdges"/>
<line x1="4" y1="733.5" x2="1443" y2="733.5" stroke="#787b86" stroke-width="1" stroke-dasharray="5 6" shape-rendering="crispEdges"/>
<polyline points="3.00,735.20 9.50,735.20 18.50,737.20 28.50,731.40 37.50,720.10 46.50,703.30 56.50,707.60 65.50,710.60 75.50,704.30 84.50,705.80 93.50,702.10 103.50,701.30 112.50,701.80 121.50,698.80 131.50,695.00 140.50,697.60 149.50,698.10 159.50,702.10 168.50,710.60 177.50,719.40 187.50,718.10 196.50,720.60 206.50,720.60 215.50,725.90 224.50,723.40 234.50,720.90 243.50,723.90 252.50,725.90 262.50,737.20 271.50,740.70 280.50,737.20 290.50,733.90 299.50,731.40 308.50,735.70 318.50,730.20 327.50,735.20 337.50,735.70 346.50,739.40 355.50,733.90 365.50,733.40 374.50,730.90 383.50,733.90 393.50,747.70 402.50,745.20 411.50,738.20 421.50,735.90 430.50,731.90 439.50,730.90 449.50,738.20 458.50,738.20 468.50,727.70 477.50,725.60 486.50,722.60 496.50,715.60 505.50,711.90 514.50,703.10 524.50,706.30 533.50,702.10 542.50,700.60 552.50,705.80 561.50,708.10 570.50,705.60 580.50,700.10 589.50,700.10 599.50,695.00 608.50,688.80 617.50,687.50 627.50,694.30 636.50,698.10 645.50,696.30 655.50,705.60 664.50,711.90 673.50,714.40 683.50,720.60 692.50,712.10 701.50,715.10 711.50,733.20 720.50,731.90 730.50,728.20 739.50,732.70 748.50,739.40 758.50,740.20 767.50,743.20 776.50,739.40 786.50,726.90 795.50,719.40 804.50,723.10 814.50,717.60 823.50,712.10 833.50,733.90 842.50,744.70 851.50,752.70 861.50,750.70 870.50,746.50 879.50,738.20 889.50,734.70 898.50,733.40 907.50,731.40 917.50,725.60 926.50,722.60 935.50,719.60 945.50,720.60 954.50,718.90 964.50,722.60 973.50,720.60 982.50,717.60 992.50,704.60 1001.50,700.80 1010.50,699.30 1020.50,703.10 1029.50,699.30 1038.50,699.30 1048.50,697.60 1057.50,696.30 1066.50,688.30 1076.50,690.50 1085.50,695.00 1095.50,696.30 1104.50,699.80 1113.50,705.70 1123.50,708.70 1132.50,708.10 1141.50,705.30 1151.50,704.40 1160.50,715.20 1169.50,716.20 1179.50,709.70 1188.50,701.20 1197.50,700.40 1207.50,705.30 1216.50,702.20 1226.50,724.60 1235.50,755.20 1244.50,754.90 1254.50,732.50 1263.50,741.40 1272.50,750.30 1282.50,742.40 1291.50,733.90 1300.50,731.50 1310.50,733.50 1319.50,735.40 1328.50,729.50 1338.50,728.90 1347.50,732.50 1357.50,728.90 1366.50,727.50 1375.50,717.60" fill="none" stroke="#2962ff" stroke-width="1" stroke-linejoin="round" />
</g>
<g clip-path="url(#catr)">
<rect x="4" y="798" width="1439" height="1" fill="#e8e8e8" shape-rendering="crispEdges"/>
<rect x="65" y="761" width="1" height="42" fill="#e8e8e8" shape-rendering="crispEdges"/>
<rect x="159" y="761" width="1" height="42" fill="#e8e8e8" shape-rendering="crispEdges"/>
<rect x="252" y="761" width="1" height="42" fill="#e8e8e8" shape-rendering="crispEdges"/>
<rect x="374" y="761" width="1" height="42" fill="#e8e8e8" shape-rendering="crispEdges"/>
<rect x="486" y="761" width="1" height="42" fill="#e8e8e8" shape-rendering="crispEdges"/>
<rect x="570" y="761" width="1" height="42" fill="#e8e8e8" shape-rendering="crispEdges"/>
<rect x="673" y="761" width="1" height="42" fill="#e8e8e8" shape-rendering="crispEdges"/>
<rect x="767" y="761" width="1" height="42" fill="#e8e8e8" shape-rendering="crispEdges"/>
<rect x="861" y="761" width="1" height="42" fill="#e8e8e8" shape-rendering="crispEdges"/>
<rect x="973" y="761" width="1" height="42" fill="#e8e8e8" shape-rendering="crispEdges"/>
<rect x="1095" y="761" width="1" height="42" fill="#e8e8e8" shape-rendering="crispEdges"/>
<rect x="1188" y="761" width="1" height="42" fill="#e8e8e8" shape-rendering="crispEdges"/>
<rect x="1282" y="761" width="1" height="42" fill="#e8e8e8" shape-rendering="crispEdges"/>
<rect x="1375" y="761" width="1" height="42" fill="#e8e8e8" shape-rendering="crispEdges"/>
<polyline points="3.00,774.00 9.50,774.00 18.50,775.30 28.50,774.80 37.50,771.00 46.50,765.30 56.50,762.80 65.50,766.00 75.50,766.50 84.50,767.80 93.50,767.80 103.50,770.30 112.50,773.30 121.50,775.30 131.50,775.30 140.50,774.30 149.50,776.60 159.50,781.60 168.50,779.10 177.50,778.60 187.50,778.60 196.50,774.30 206.50,775.30 215.50,776.60 224.50,777.80 234.50,777.80 243.50,779.80 252.50,781.60 262.50,779.80 271.50,781.60 280.50,782.30 290.50,784.80 299.50,787.30 308.50,784.80 318.50,782.80 327.50,781.10 337.50,780.30 346.50,781.10 355.50,782.30 365.50,779.10 374.50,776.60 383.50,773.30 393.50,774.10 402.50,776.60 411.50,779.60 421.50,781.10 430.50,783.30 439.50,784.30 449.50,781.80 458.50,783.60 468.50,783.60 477.50,784.30 486.50,787.30 496.50,786.10 505.50,788.10 514.50,785.80 524.50,788.40 533.50,789.40 542.50,791.40 552.50,791.90 561.50,791.60 570.50,792.60 580.50,794.40 589.50,795.90 599.50,794.10 608.50,791.60 617.50,790.90 627.50,792.90 636.50,794.10 645.50,794.60 655.50,793.40 664.50,795.40 673.50,796.40 683.50,797.10 692.50,793.40 701.50,790.90 711.50,790.40 720.50,791.90 730.50,793.40 739.50,795.40 748.50,795.40 758.50,796.40 767.50,795.40 776.50,794.60 786.50,793.40 795.50,794.10 804.50,793.90 814.50,794.90 823.50,796.10 833.50,788.60 842.50,788.60 851.50,784.80 861.50,786.30 870.50,786.80 879.50,785.80 889.50,786.80 898.50,786.30 907.50,787.30 917.50,786.10 926.50,788.10 935.50,787.30 945.50,786.10 954.50,787.30 964.50,786.10 973.50,784.60 982.50,784.80 992.50,782.30 1001.50,784.60 1010.50,786.60 1020.50,789.40 1029.50,789.40 1038.50,791.60 1048.50,792.90 1057.50,792.10 1066.50,790.90 1076.50,792.10 1085.50,793.40 1095.50,795.40 1104.50,796.40 1113.50,797.20 1123.50,797.20 1132.50,796.80 1141.50,798.40 1151.50,799.60 1160.50,798.40 1169.50,797.80 1179.50,795.80 1188.50,794.30 1197.50,793.90 1207.50,794.90 1216.50,796.20 1226.50,791.90 1235.50,790.90 1244.50,790.90 1254.50,785.90 1263.50,783.40 1272.50,782.60 1282.50,783.40 1291.50,785.50 1300.50,787.10 1310.50,787.90 1319.50,788.90 1328.50,788.10 1338.50,788.50 1347.50,789.30 1357.50,790.10 1366.50,791.30 1375.50,790.10" fill="none" stroke="#c62828" stroke-width="1" stroke-linejoin="round" />
</g>
<g shape-rendering="crispEdges">
<rect x="4" y="683" width="1505" height="1" fill="#e0e3eb"/>
<rect x="4" y="760" width="1505" height="1" fill="#e0e3eb"/>
<rect x="4" y="803" width="1505" height="1" fill="#4f4f4f"/>
<rect x="1443" y="2" width="1" height="681" fill="#4f4f4f"/>
<rect x="1443" y="684" width="1" height="76" fill="#4f4f4f"/>
<rect x="1443" y="761" width="1" height="70" fill="#4f4f4f"/>
</g>
<g clip-path="url(#caxis)" font-size="12" fill="#4a4a4a">
<text x="1452" y="84.5">1.11000</text>
<text x="1452" y="141.5">1.10500</text>
<text x="1452" y="197.5">1.10000</text>
<text x="1452" y="254.5">1.09500</text>
<text x="1452" y="311.5">1.09000</text>
<text x="1452" y="368.5">1.08500</text>
<text x="1452" y="425.5">1.08000</text>
<text x="1452" y="482.5">1.07500</text>
<text x="1452" y="538.5">1.07000</text>
<text x="1452" y="595.5">1.06500</text>
</g>
<g clip-path="url(#caxis)"><path d="M1443 28 h54.5 a2 2 0 0 1 2 2 v13 a2 2 0 0 1 -2 2 h-54.5 z" fill="#000"/><text x="1452" y="40.8" font-size="12" font-weight="bold" fill="#fff">1.11392</text></g>
<g clip-path="url(#caxis)"><path d="M1443 52 h54.5 a2 2 0 0 1 2 2 v13 a2 2 0 0 1 -2 2 h-54.5 z" fill="#000"/><text x="1452" y="64.8" font-size="12" font-weight="bold" fill="#fff">1.11183</text></g>
<g clip-path="url(#caxis)"><path d="M1443 78 h54.5 a2 2 0 0 1 2 2 v13 a2 2 0 0 1 -2 2 h-54.5 z" fill="#000"/><text x="1452" y="90.8" font-size="12" font-weight="bold" fill="#fff">1.10956</text></g>
<g clip-path="url(#caxis)"><path d="M1443 207 h54.5 a2 2 0 0 1 2 2 v13 a2 2 0 0 1 -2 2 h-54.5 z" fill="#000"/><text x="1452" y="219.8" font-size="12" font-weight="bold" fill="#fff">1.09816</text></g>
<g clip-path="url(#caxis)"><path d="M1443 281 h54.5 a2 2 0 0 1 2 2 v13 a2 2 0 0 1 -2 2 h-54.5 z" fill="#000"/><text x="1452" y="293.8" font-size="12" font-weight="bold" fill="#fff">1.09168</text></g>
<g clip-path="url(#caxis)"><path d="M1443 534 h54.5 a2 2 0 0 1 2 2 v13 a2 2 0 0 1 -2 2 h-54.5 z" fill="#000"/><text x="1452" y="546.8" font-size="12" font-weight="bold" fill="#fff">1.06947</text></g>
<g clip-path="url(#caxis)"><path d="M1443 641 h54.5 a2 2 0 0 1 2 2 v13 a2 2 0 0 1 -2 2 h-54.5 z" fill="#000"/><text x="1452" y="653.8" font-size="12" font-weight="bold" fill="#fff">1.06005</text></g>
<path d="M1443 459 h58.5 a2 2 0 0 1 2 2 v13 a2 2 0 0 1 -2 2 h-58.5 z" fill="#6aa583"/>
<text x="1452.3" y="471.8" font-size="12" font-weight="bold" fill="#f2f8f4">13:35:06</text>
<rect x="1447.5" y="6.5" width="57" height="25" rx="4" fill="#fff" stroke="#e0e3eb" stroke-width="1"/>
<text x="1451.3" y="23" font-size="11.5" fill="#131722" textLength="20.3" lengthAdjust="spacingAndGlyphs">USD</text>
<path d="M1494.9 18.1 l2.6 2.6 l2.6 -2.6" fill="none" stroke="#131722" stroke-width="1.1"/>
<g font-size="12" fill="#4a4a4a">
<svg x="1444" y="684" width="65" height="76" overflow="hidden"><text x="8" y="7">200.00</text><text x="8" y="38.2">0.00</text><text x="8.5" y="69">−200.00</text></svg>
<svg x="1444" y="761" width="65" height="42" overflow="hidden"><text x="8" y="41.5">0.00500</text></svg>
</g>
<g font-size="12" fill="#4a4a4a" text-anchor="middle">
<text x="65.5" y="821">18</text>
<text x="252.5" y="821">15</text>
<text x="374.5" y="821">Feb</text>
<text x="486.5" y="821">19</text>
<text x="570.5" y="821">Mar</text>
<text x="673.5" y="821">18</text>
<text x="767.5" y="821">Apr</text>
<text x="861.5" y="821">15</text>
<text x="973.5" y="821">May</text>
<text x="1095.5" y="821">20</text>
<text x="1188.5" y="821">Jun</text>
<text x="1282.5" y="821">17</text>
<text x="1375.5" y="821">Jul</text>
<text x="159.5" y="821" font-weight="bold">2024</text>
</g>
<g>
<clipPath id="cus"><circle cx="25" cy="14.8" r="6.2"/></clipPath>
<g clip-path="url(#cus)"><rect x="18" y="8" width="14" height="14" fill="#fff"/>
<rect x="18" y="8.6" width="14" height="1.8" fill="#f23645"/>
<rect x="18" y="12.2" width="14" height="1.8" fill="#f23645"/>
<rect x="18" y="15.8" width="14" height="1.8" fill="#f23645"/>
<rect x="18" y="19.4" width="14" height="1.8" fill="#f23645"/>
<rect x="18" y="8" width="7.6" height="8" fill="#2a7ee6"/>
<circle cx="21" cy="10.5" r="0.55" fill="#fff"/>
<circle cx="23.5" cy="10.5" r="0.55" fill="#fff"/>
<circle cx="22.3" cy="12.5" r="0.55" fill="#fff"/>
<circle cx="21" cy="14.3" r="0.55" fill="#fff"/>
<circle cx="23.5" cy="14.3" r="0.55" fill="#fff"/>
</g>
<circle cx="19" cy="21" r="7" fill="#fff"/>
<circle cx="19" cy="21" r="6" fill="#1b56b6"/>
<circle cx="22.60" cy="21.00" r="0.7" fill="#f2d21b"/>
<circle cx="21.55" cy="23.55" r="0.7" fill="#f2d21b"/>
<circle cx="19.00" cy="24.60" r="0.7" fill="#f2d21b"/>
<circle cx="16.45" cy="23.55" r="0.7" fill="#f2d21b"/>
<circle cx="15.40" cy="21.00" r="0.7" fill="#f2d21b"/>
<circle cx="16.45" cy="18.45" r="0.7" fill="#f2d21b"/>
<circle cx="19.00" cy="17.40" r="0.7" fill="#f2d21b"/>
<circle cx="21.55" cy="18.45" r="0.7" fill="#f2d21b"/>
<text x="35.5" y="24" font-size="15" letter-spacing="0.1" fill="#4d4d4d">Euro / U.S. Dollar · 1D · FXCM</text>
<circle cx="267" cy="18" r="9" fill="#dff3ef"/>
<circle cx="267" cy="18" r="4" fill="#089981"/>
<text x="292" y="23" font-size="12.5" fill="#4d4d4d">O<tspan fill="#1f6b45">1.07432</tspan></text>
<text x="353.8" y="23" font-size="12.5" fill="#4d4d4d">H<tspan fill="#1f6b45">1.07764</tspan></text>
<text x="414.8" y="23" font-size="12.5" fill="#4d4d4d">L<tspan fill="#1f6b45">1.07322</tspan></text>
<text x="474.4" y="23" font-size="12.5" fill="#4d4d4d">C<tspan fill="#1f6b45">1.07604</tspan></text>
<text x="535.4" y="23" font-size="12.5" fill="#1f6b45" textLength="104" lengthAdjust="spacingAndGlyphs">+0.00496 (+0.46%)</text>
</g>
<path d="M8 33 H170 V61 H150 V86 H148 V110 H156 V134 H8 Z" fill="#fff" fill-opacity="0.5"/>
<rect x="12.5" y="34.5" width="60" height="23" rx="4" fill="#fff" stroke="#f23645"/>
<text x="20.5" y="51" font-size="12.9" fill="#f23645">1.0760<tspan font-size="10" dy="-3.6">4</tspan></text>
<text x="80.7" y="50" font-size="11.5" fill="#131722">0.2</text>
<rect x="104.5" y="34.5" width="60" height="23" rx="4" fill="#fff" stroke="#2962ff"/>
<text x="114" y="51" font-size="12.9" fill="#2962ff">1.0760<tspan font-size="10" dy="-3.6">6</tspan></text>
<g font-size="12" fill="#4d4d4d">
<text x="13" y="78.5">SMA 20 close</text><text x="96" y="78.5" font-size="12.4" fill="#f23645">1.07547</text>
<text x="13" y="102.5">SMA 50 close</text><text x="96" y="102.5" font-size="12.4" fill="#2b2bff">1.07767</text>
<text x="13" y="126.5">SMA 200 close</text><text x="103" y="126.5" font-size="12.4" fill="#131722">1.07907</text>
</g>
<rect x="13.5" y="136.5" width="28" height="20" rx="3" fill="#fff" stroke="#d1d4dc"/>
<path d="M23.5 148.5 l4 -4 l4 4" fill="none" stroke="#131722" stroke-width="1.3"/>
<rect x="8" y="693" width="152" height="19" fill="#fff" fill-opacity="0.5"/>
<text x="13" y="705" font-size="12" fill="#4d4d4d">CCI 20 hlc3 SMA 5</text><text x="124" y="705" font-size="12.4" fill="#2962ff">−0.76</text>
<rect x="8" y="768" width="128" height="19" fill="#fff" fill-opacity="0.5"/>
<path d="M17.5 774 H28 V789 H22 V777.5 H17.5 Z" fill="#8a8c93"/>
<path d="M39.3 774 H45.6 L39.7 789 H33.3 Z" fill="#8a8c93"/>
<circle cx="33" cy="776.5" r="2.4" fill="#8a8c93"/>
<text x="13" y="781.5" font-size="12" fill="#4d4d4d" textLength="66.5" lengthAdjust="spacingAndGlyphs">ATR 14 RMA</text><text x="89" y="781.5" font-size="12.4" fill="#c62828">0.00565</text>
<circle cx="1375.5" cy="670.5" r="9.6" fill="#fff" stroke="#9c27b0" stroke-width="1.6" stroke-dasharray="51.3 9" transform="rotate(-17.7 1375.5 670.5)"/>
<path d="M1378.9 664.4 L1370.6 671.3 L1375.1 671.3 L1372.1 676.6 L1380.4 669.7 L1375.9 669.7 Z" fill="#9c27b0"/>
<circle cx="1382.4" cy="663.6" r="2.6" fill="#f23645"/>
<defs><filter id="wsh" x="-10%" y="-10%" width="130%" height="130%"><feDropShadow dx="1.7" dy="1.7" stdDeviation="0.9" flood-color="#333" flood-opacity="0.9"/></filter><filter id="zsh" x="-10%" y="-10%" width="130%" height="130%"><feDropShadow dx="1.2" dy="1.5" stdDeviation="0.5" flood-color="#5060b0" flood-opacity="0.8"/></filter></defs>
<g filter="url(#wsh)" fill="#fff" opacity="0.7"><path d="M1283.0 741.5 L1291.0 741.5 L1290.4 751.5 L1292.5 751.5 L1291.8 756.4 L1281.5 756.4 Z"/><path d="M1294.0 742.0 L1333.2 742.0 L1331.6 750.4 L1302.7 750.4 L1302.5 751.6 L1292.5 751.6 Z"/><path d="M1278.0 758.0 L1286.0 758.0 L1285.4 774.4 L1276.5 774.4 Z"/><path d="M1278.5 776.0 L1287.0 776.0 L1280.5 791.5 L1278.5 794.4 L1268.5 794.4 Z"/><path d="M1293.5 752.5 L1302.0 752.5 L1292.8 794.5 L1284.5 794.5 Z"/><path d="M1300.0 752.5 L1329.2 752.5 L1327.4 759.8 L1300.0 759.8 Z"/><path d="M1289.0 768.3 L1336.5 768.3 L1335.0 776.7 L1287.5 776.7 Z"/><path d="M1287.0 785.2 L1322.0 785.2 L1316.5 794.5 L1285.0 794.5 Z"/><path d="M1319.5 752.5 L1329.2 752.5 L1319.6 789.8 L1316.5 794.5 L1309.5 794.5 Z"/><path d="M1310.3 761.0 L1312.8 761.0 L1316.0 768.3 L1313.5 768.3 Z"/><path d="M1305.8 778.5 L1308.3 778.5 L1310.8 786.0 L1308.3 786.0 Z"/><path d="M1343.0 741.5 L1392.0 741.5 L1390.5 748.7 L1341.5 748.7 Z"/><path d="M1342.2 750.5 L1348.6 750.5 L1345.6 763.5 L1339.0 763.5 Z"/><path d="M1338.5 763.5 L1379.0 763.5 L1376.5 770.6 L1336.5 770.6 Z"/><path d="M1333.2 777.5 L1372.2 777.5 L1370.6 784.8 L1331.0 784.8 Z"/><path d="M1383.0 741.5 L1391.6 741.5 L1378.2 792.0 L1375.5 795.2 L1356.5 795.2 L1358.5 788.0 L1371.5 788.0 Z"/><path d="M1398.5 742.0 L1406.8 742.0 L1396.7 781.3 L1388.4 781.3 Z"/><path d="M1398.5 742.0 L1420.0 742.0 L1418.0 750.2 L1397.0 750.2 Z"/><path d="M1408.5 742.0 L1416.7 742.0 L1407.3 777.5 L1400.8 788.3 L1393.5 794.4 L1385.5 794.4 L1392.5 786.0 L1399.0 777.5 Z"/><path d="M1404.5 781.0 L1409.0 781.0 L1413.0 793.8 L1405.5 794.0 Z"/><path d="M1418.0 742.0 L1427.0 742.0 L1416.1 781.0 L1407.0 781.0 Z"/><path d="M1423.0 747.0 L1441.6 747.0 L1439.7 754.3 L1421.0 754.3 Z"/><path d="M1431.0 754.3 L1440.0 754.3 L1423.2 791.3 L1421.0 793.3 L1412.5 793.3 L1414.0 790.0 Z"/><path d="M1425.5 785.0 L1441.0 783.7 L1438.4 793.3 L1424.0 793.3 Z"/><path d="M1444.5 742.0 L1452.8 742.0 L1440.2 788.3 L1432.0 788.3 Z"/><path d="M1470.0 741.5 L1479.0 741.5 L1465.4 756.0 L1461.5 760.5 L1461.0 764.8 L1452.5 764.8 L1457.0 756.0 Z"/><path d="M1471.0 755.2 L1480.8 755.2 L1463.8 773.0 L1455.0 773.0 Z"/><path d="M1452.5 774.5 L1474.3 771.3 L1471.6 781.7 L1450.5 781.7 Z"/><path d="M1493.0 741.5 L1514.0 741.5 L1512.5 746.5 L1492.0 746.5 Z"/><path d="M1505.0 742.0 L1514.5 742.0 L1501.6 757.5 L1504.0 760.0 L1495.0 760.0 L1493.0 757.5 Z"/><path d="M1478.8 761.5 L1493.0 757.6 L1507.8 762.5 L1505.5 768.3 L1493.0 764.4 L1478.4 768.3 Z"/><path d="M1476.5 771.0 L1506.0 771.0 L1504.0 776.4 L1483.2 776.4 L1483.0 777.9 L1476.0 777.9 Z"/><path d="M1486.0 777.0 L1494.0 777.0 L1491.2 786.0 L1483.0 786.0 Z"/><path d="M1450.0 786.5 L1502.0 786.5 L1500.2 793.6 L1448.5 793.6 Z"/></g>
<g filter="url(#zsh)" font-size="33" font-weight="bold" font-style="italic" fill="#93bff8" style="mix-blend-mode:multiply">
<text transform="translate(1281.00,827.5) scale(1.188,1)">z</text>
<text transform="translate(1307.00,827.5) scale(1.250,1)">z</text>
<text transform="translate(1334.86,827.5) scale(1.143,1)">r</text>
<text transform="translate(1357.27,827.5) scale(1.364,1)">t</text>
<text transform="translate(1379.00,827.5) scale(1.000,1)">0</text>
<text transform="translate(1413.12,827.5) scale(0.875,1)">1</text>
<text transform="translate(1436.50,827.5) scale(1.500,1)">.</text>
<text transform="translate(1457.82,827.5) scale(1.176,1)">c</text>
<text transform="translate(1481.83,827.5) scale(1.167,1)">n</text>
</g>
<path d="M1469.2 817.3 L1473.4 811.3 H1480.3 L1483.8 817.3 L1480.3 823.3 H1473.4 Z" fill="none" stroke="#131722" stroke-width="1.1" stroke-linejoin="round"/>
<circle cx="1476.5" cy="817.3" r="2.1" fill="none" stroke="#131722" stroke-width="1.1"/>
</svg></body></html>
